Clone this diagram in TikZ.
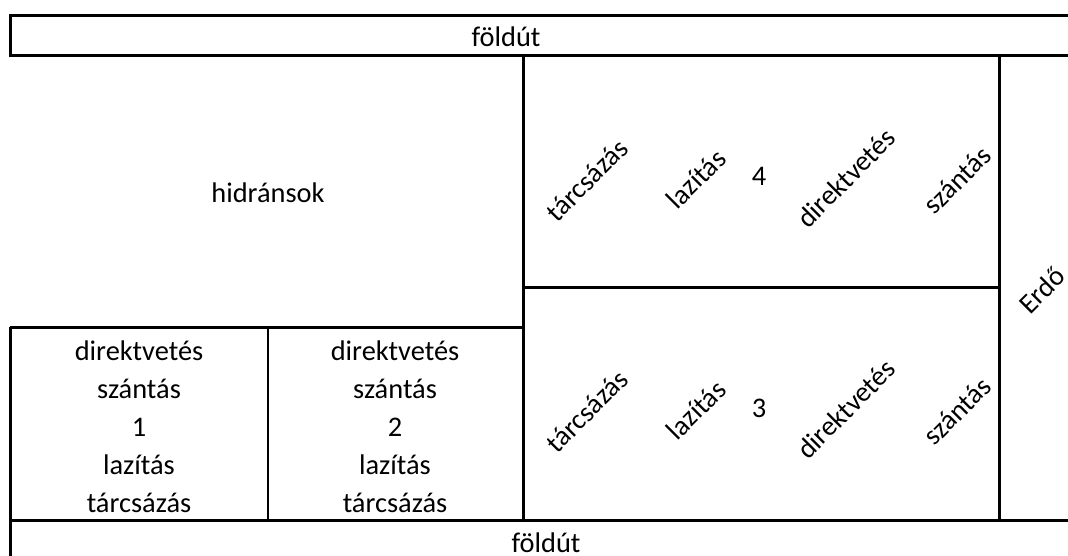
\documentclass[tikz,border=0pt]{standalone}
\usepackage{fontspec}
\setmainfont{Carlito}
\begin{document}
\begin{tikzpicture}[x=1pt,y=-1pt,
  wall/.style={line width=3pt},
  thinwall/.style={line width=1.3pt},
  lbl/.style={font=\fontsize{28.4}{38}\selectfont, inner sep=0pt, align=center},
  rlbl/.style={font=\fontsize{28}{30}\selectfont, rotate=45, inner sep=0pt}]
\useasboundingbox (0,0) rectangle (1068,555);
\begin{scope}
  \clip (0,0) rectangle (1068,555);
  \draw[wall] (10,15) rectangle (1090,55);
  \draw[wall] (10,520) rectangle (1090,580);
  \draw[wall] (523,55) -- (523,520);
  \draw[wall] (999,55) -- (999,520);
  \draw[wall] (523,287) -- (999,287);
  \draw[wall] (10,327) -- (523,327);
  \draw[wall] (10,327) -- (10,520);
  \draw[thinwall] (268,327) -- (268,520);
\end{scope}
\node[lbl] (roadtop) at (506,37) {földút};
\node[lbl] (roadbot) at (546,543) {földút};
\node[lbl] (hyd) at (268,193) {hidránsok};
\node[lbl] (f1) at (139,427) {direktvetés\\szántás\\1\\lazítás\\tárcsázás};
\node[lbl] (f2) at (395,427) {direktvetés\\szántás\\2\\lazítás\\tárcsázás};
% field 4
\node[rlbl] (f4a) at (587,180) {tárcsázás};
\node[rlbl] (f4b) at (696,179) {lazítás};
\node[lbl]  (f4n) at (759,176) {4};
\node[rlbl] (f4c) at (846,178) {direktvetés};
\node[rlbl] (f4d) at (957,180) {szántás};
% field 3
\node[rlbl] (f3a) at (587,411) {tárcsázás};
\node[rlbl] (f3b) at (696,410) {lazítás};
\node[lbl]  (f3n) at (759,408) {3};
\node[rlbl] (f3c) at (846,409) {direktvetés};
\node[rlbl] (f3d) at (957,411) {szántás};
% forest
\node[rlbl] (erdo) at (1042,290) {Erdő};
\end{tikzpicture}
\end{document}
